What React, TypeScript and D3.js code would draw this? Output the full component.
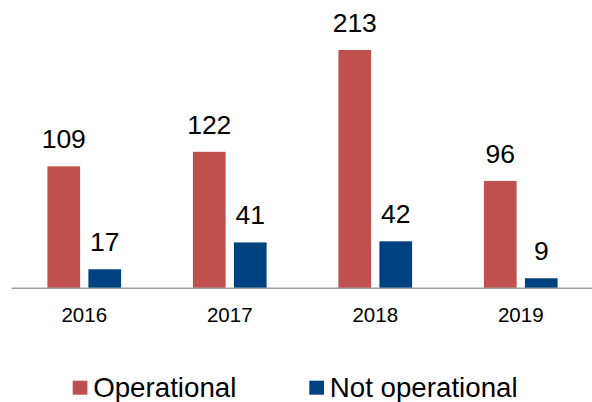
import React from "react";
import * as d3 from "d3";

const years = ["2016", "2017", "2018", "2019"];
const operational = [109, 122, 213, 96];
const notOperational = [17, 41, 42, 9];
const seriesNames = ["Operational", "Not operational"];
const seriesColors = ["#C0504D", "#00427F"];

const W = 592;
const H = 402;
const baseY = 288.3;
const font = "Liberation Sans, Arial, sans-serif";

export default function App() {
  const x = d3.scaleBand<string>().domain(years).range([11.5, 593.5]);
  const y = d3.scaleLinear().domain([0, 213]).range([baseY, 50]);
  const barW = 32.7;
  const gap = 8.3;
  const series = [operational, notOperational];

  return (
    <svg
      width={W}
      height={H}
      style={{ position: "absolute", left: 0, top: 0, background: "#fff" }}
      fontFamily={font}
    >
      {years.map((yr, i) => {
        const c = (x(yr) as number) + x.bandwidth() / 2;
        return (
          <g key={yr}>
            {series.map((s, k) => {
              const x0 = k === 0 ? c - gap / 2 - barW : c + gap / 2;
              return (
                <g key={k}>
                  <rect
                    x={x0}
                    y={y(s[i])}
                    width={barW}
                    height={baseY - y(s[i])}
                    fill={seriesColors[k]}
                  />
                  <text
                    x={x0 + barW / 2}
                    y={y(s[i]) - 18.3}
                    textAnchor="middle"
                    fontSize={26.5}
                    fill="#000"
                  >
                    {s[i]}
                  </text>
                </g>
              );
            })}
            <text x={c} y={322.3} textAnchor="middle" fontSize={20.5} fill="#000">
              {yr}
            </text>
          </g>
        );
      })}
      <line x1={11.5} x2={593} y1={baseY} y2={baseY} stroke="#A0A0A0" strokeWidth={1.5} />
      {seriesNames.map((n, k) => {
        const sx = k === 0 ? 72.7 : 309.3;
        return (
          <g key={n}>
            <rect x={sx} y={380.7} width={14.7} height={14} fill={seriesColors[k]} />
            <text x={sx + 20.5} y={396.5} fontSize={27.7} fill="#000">
              {n}
            </text>
          </g>
        );
      })}
    </svg>
  );
}
